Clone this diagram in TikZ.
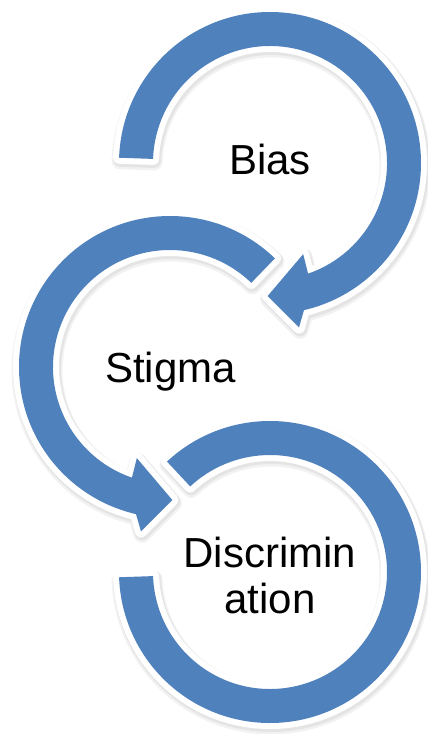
\documentclass[tikz,border=0pt]{standalone}
\usepackage{fontspec}
\setmainfont{Liberation Sans}
\usetikzlibrary{calc}
\definecolor{ringblue}{RGB}{79,129,189}
\begin{document}
\begin{tikzpicture}[x=1pt,y=1pt,
  ring/.style={fill=ringblue,
    preaction={draw=black, draw opacity=0.05, line width=17, line join=round,
               transform canvas={shift={(1pt,-3pt)}}},
    preaction={draw=black, draw opacity=0.06, line width=14, line join=round,
               transform canvas={shift={(1pt,-2pt)}}},
    preaction={draw=white, fill=white, line width=12, line join=round}},
  ringtext/.style={font=\fontsize{42}{46}\selectfont, text=black,
                   align=center, inner sep=0pt}]
\useasboundingbox (0,0) rectangle (428,-734);

% ring centres
\coordinate (b) at (270,-163);
\coordinate (s) at (170,-367);
\coordinate (d) at (270,-572);

% Bias: clockwise ring ending in an arrowhead pointing left
\path[ring] ($(b)+(178:151)$) arc[start angle=178, end angle=-77, radius=151]
  -- ($(b)+(-80:167)$) -- ($(b)+(-91:133)$) -- ($(b)+(-70:97)$)
  -- ($(b)+(-71:117)$) arc[start angle=-71, end angle=178, radius=117] -- cycle;

% Stigma: counter-clockwise ring ending in an arrowhead pointing right
\path[ring] ($(s)+(46:151)$) arc[start angle=46, end angle=257, radius=151]
  -- ($(s)+(260:167)$) -- ($(s)+(271:133)$) -- ($(s)+(250:97)$)
  -- ($(s)+(251:117)$) arc[start angle=251, end angle=46, radius=117] -- cycle;

% Discrimination: clockwise ring without an arrowhead
\path[ring] ($(d)+(133:151)$) arc[start angle=133, end angle=-178, radius=151]
  -- ($(d)+(-178:117)$) arc[start angle=-178, end angle=133, radius=117] -- cycle;

% labels (a two-line node sits on the baseline of its last line)
\node[ringtext, anchor=base] (bias) at (270,-174) {Bias};
\node[ringtext, anchor=base] (stigma) at (170.5,-382) {Stigma};
\node[ringtext, anchor=base] (discrimination) at (270,-613) {Discrimin\\ation};
\end{tikzpicture}
\end{document}
